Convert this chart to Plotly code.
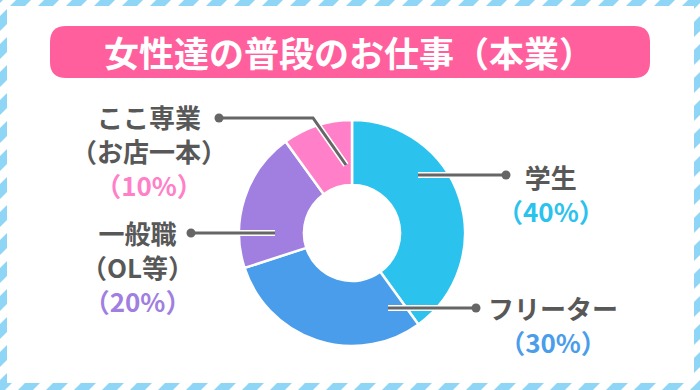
import plotly.graph_objects as go

W, H = 700, 390

# ---- data ----
categories = ["学生", "フリーター", "一般職", "ここ専業"]
sublabels = ["", "", "（OL等）", "（お店一本）"]
values = [40, 30, 20, 10]
colors = ["#2bc2ee", "#4a9deb", "#a07fe0", "#ff80c8"]
title_text = "女性達の普段のお仕事（本業）"

# ---- layout constants (pixels) ----
cx, cy, R = 352, 233, 113
HOLE = 0.425
FONT = "Noto Sans CJK JP"
GRAY = "#585858"
LINE_GRAY = "#666666"
STRIPE = "#8fd6f6"
PINK = "#ff5f9d"

# label block centre (x, y) and leader polyline (slice end -> dot end)
label_pos = [
    dict(x=551, y=193, leader=[(418, 175), (506, 175)]),
    dict(x=553, y=324, leader=[(388, 308), (476, 308)]),
    dict(x=137, y=266, leader=[(275, 233), (191, 233)]),
    dict(x=149, y=151, leader=[(346, 165), (313, 118), (219, 118)]),
]


def px(x):
    return x / W


def py(y):
    return 1 - y / H


def path_of(points, close=True):
    s = "M " + " L ".join(f"{px(x):.5f},{py(y):.5f}" for x, y in points)
    return s + (" Z" if close else "")


shapes = []
# striped frame: blue stripes over whole page, then white inner card
stripe_paths = []
period, bw = 28, 15
for c in range(-40, W + H + 40, period):
    pts = [(c, 0), (c + bw, 0), (c + bw - H, H), (c - H, H)]
    stripe_paths.append(path_of(pts))
shapes.append(dict(type="path", path=" ".join(stripe_paths), fillcolor=STRIPE,
                   line=dict(width=0), xref="paper", yref="paper", layer="below"))
shapes.append(dict(type="rect", x0=px(7), x1=px(694), y0=py(383), y1=py(6),
                   fillcolor="white", line=dict(width=0), xref="paper", yref="paper",
                   layer="below"))

# title banner (rounded rect)
bx0, bx1, by0, by1, r = 50, 650, 26, 78, 16
banner = (
    f"M {px(bx0 + r):.5f},{py(by0):.5f} L {px(bx1 - r):.5f},{py(by0):.5f} "
    f"Q {px(bx1):.5f},{py(by0):.5f} {px(bx1):.5f},{py(by0 + r):.5f} "
    f"L {px(bx1):.5f},{py(by1 - r):.5f} "
    f"Q {px(bx1):.5f},{py(by1):.5f} {px(bx1 - r):.5f},{py(by1):.5f} "
    f"L {px(bx0 + r):.5f},{py(by1):.5f} "
    f"Q {px(bx0):.5f},{py(by1):.5f} {px(bx0):.5f},{py(by1 - r):.5f} "
    f"L {px(bx0):.5f},{py(by0 + r):.5f} "
    f"Q {px(bx0):.5f},{py(by0):.5f} {px(bx0 + r):.5f},{py(by0):.5f} Z"
)
shapes.append(dict(type="path", path=banner, fillcolor=PINK, line=dict(width=0),
                   xref="paper", yref="paper", layer="below"))

annotations = [dict(text=title_text, x=px(349), y=py(52), xref="paper", yref="paper",
                    showarrow=False, xanchor="center", yanchor="middle",
                    font=dict(family=FONT, size=35, color="white", weight="bold"))]

# leader lines + labels
for i, cat in enumerate(categories):
    lp = label_pos[i]
    p = path_of(lp["leader"], close=False)
    shapes.append(dict(type="path", path=p, line=dict(color="white", width=6),
                       xref="paper", yref="paper", layer="above"))
    shapes.append(dict(type="path", path=p, line=dict(color=LINE_GRAY, width=3),
                       xref="paper", yref="paper", layer="above"))
    dx, dy = lp["leader"][-1]
    rd = 4.5
    shapes.append(dict(type="circle", x0=px(dx - rd), x1=px(dx + rd), y0=py(dy + rd),
                       y1=py(dy - rd), fillcolor=LINE_GRAY, line=dict(width=0),
                       xref="paper", yref="paper", layer="above"))

    parts = [cat]
    if sublabels[i]:
        parts.append(sublabels[i])
    parts.append(f"<span style='color:{colors[i]}'>（{values[i]}%）</span>")
    annotations.append(dict(text="<br>".join(parts), x=px(lp["x"]), y=py(lp["y"]),
                            xref="paper", yref="paper", showarrow=False,
                            xanchor="center", yanchor="middle", align="center",
                            font=dict(family=FONT, size=26, color=GRAY, weight="bold")))

fig = go.Figure(go.Pie(
    labels=categories, values=values, hole=HOLE, sort=False, direction="clockwise",
    rotation=0, textinfo="none", hoverinfo="label+percent",
    marker=dict(colors=colors, line=dict(color="white", width=2.5)),
    domain=dict(x=[px(cx - R), px(cx + R)], y=[py(cy + R), py(cy - R)]),
    showlegend=False,
))

fig.update_layout(width=W, height=H, margin=dict(l=0, r=0, t=0, b=0),
                  paper_bgcolor="white", plot_bgcolor="white",
                  shapes=shapes, annotations=annotations)

fig.write_html("out.html", config={"displayModeBar": False},
               post_script="document.body.style.margin='0';document.body.style.overflow='hidden';")
